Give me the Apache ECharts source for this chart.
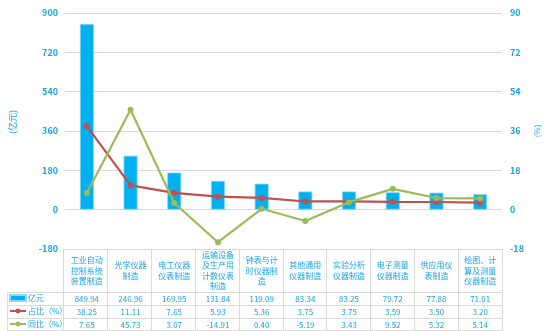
<!DOCTYPE html>
<html>
<head>
<meta charset="utf-8">
<script src="https://cdn.jsdelivr.net/npm/echarts@6/dist/echarts.min.js"></script>
<style>
  html, body { margin: 0; padding: 0; background: #ffffff; }
  #chart { width: 551px; height: 331px; }
</style>
</head>
<body>
<div id="chart"></div>
<script>
// Industry categories (wrapped as they appear in the table header)
const categories = [
  '工业自动\n控制系统\n装置制造',
  '光学仪器\n制造',
  '电工仪器\n仪表制造',
  '运输设备\n及生产用\n计数仪表\n制造',
  '钟表与计\n时仪器制\n造',
  '其他通用\n仪器制造',
  '实验分析\n仪器制造',
  '电子测量\n仪器制造',
  '供应用仪\n表制造',
  '绘图、计\n算及测量\n仪器制造'
];
// Output value, 100 million yuan
const outputValue = [849.94, 246.96, 169.95, 131.84, 119.09, 83.34, 83.25, 79.72, 77.88, 71.01];
// Share of total, %
const sharePct = [38.25, 11.11, 7.65, 5.93, 5.36, 3.75, 3.75, 3.59, 3.50, 3.20];
// Year-on-year change, %
const yoyPct = [7.65, 45.73, 3.07, -14.91, 0.40, -5.19, 3.43, 9.52, 5.32, 5.14];

const seriesNames = ['亿元', '占比（%）', '同比（%）'];
const leftTicks = { min: -180, max: 900, interval: 180 };
const rightTicks = { min: -18, max: 90, interval: 18 };

// Layout of the plot area and the data table beneath it
const W = 551, H = 331;
const plotLeft = 63, plotRight = 502, plotTop = 13, plotBottom = 249;
const tableLeft = 7;
const headerBottom = 292, rowH = 13;

const blue = '#00B0F0';
const textBlue = '#1AA3E3';
const gridGrey = '#D9D9D9';
const font = '"Noto Sans CJK SC", "Noto Sans", sans-serif';

const chart = echarts.init(document.getElementById('chart'), null, { renderer: 'canvas' });

// Table rows drawn as extra category axes, one per series
function rowAxis(values, centerY) {
  return {
    type: 'category',
    position: 'bottom',
    gridIndex: 0,
    data: categories,
    axisLine: { show: false },
    axisTick: { show: false },
    splitLine: { show: false },
    axisLabel: {
      interval: 0,
      margin: centerY - plotBottom,
      verticalAlign: 'middle',
      color: textBlue,
      fontSize: 8,
      fontFamily: font,
      formatter: (v, i) => values[i].toFixed(2)
    }
  };
}

// Table grid lines
const graphics = [];
const colW = (plotRight - plotLeft) / categories.length;
const hLines = [headerBottom, headerBottom + rowH, headerBottom + 2 * rowH, headerBottom + 3 * rowH - 1];
hLines.forEach(y => graphics.push({
  type: 'line', silent: true,
  shape: { x1: tableLeft, y1: y + 0.5, x2: plotRight, y2: y + 0.5 },
  style: { stroke: gridGrey, lineWidth: 1 }
}));
graphics.push({
  type: 'line', silent: true,
  shape: { x1: tableLeft + 0.5, y1: headerBottom, x2: tableLeft + 0.5, y2: H },
  style: { stroke: gridGrey, lineWidth: 1 }
});
for (let i = 0; i <= categories.length; i++) {
  const x = Math.round(plotLeft + i * colW) + 0.5;
  graphics.push({
    type: 'line', silent: true,
    shape: { x1: x, y1: plotBottom, x2: x, y2: H },
    style: { stroke: gridGrey, lineWidth: 1 }
  });
}

const option = {
  backgroundColor: '#ffffff',
  animation: false,
  textStyle: { fontFamily: font },
  grid: {
    left: plotLeft, right: W - plotRight, top: plotTop, bottom: H - plotBottom,
    containLabel: false
  },
  legend: {
    orient: 'vertical',
    left: tableLeft + 2,
    top: headerBottom,
    padding: 0,
    itemGap: 1,
    itemWidth: 16,
    itemHeight: 6,
    textStyle: { color: textBlue, fontSize: 8, lineHeight: 12, fontFamily: font, padding: [0, 0, 0, -3] },
    data: [
      { name: seriesNames[0], icon: 'rect' },
      { name: seriesNames[1] },
      { name: seriesNames[2] }
    ]
  },
  xAxis: [
    {
      type: 'category',
      position: 'bottom',
      data: categories,
      axisLine: { show: false },
      axisTick: { show: false },
      axisLabel: {
        interval: 0,
        margin: (headerBottom - plotBottom) / 2,
        verticalAlign: 'middle',
        color: textBlue,
        fontSize: 8,
        lineHeight: 10.5,
        fontFamily: font
      }
    },
    rowAxis(outputValue, headerBottom + rowH / 2),
    rowAxis(sharePct, headerBottom + rowH * 1.5),
    rowAxis(yoyPct, headerBottom + rowH * 2.5)
  ],
  yAxis: [
    {
      type: 'value',
      min: leftTicks.min, max: leftTicks.max, interval: leftTicks.interval,
      name: '(亿元)',
      nameLocation: 'middle',
      nameRotate: 90,
      nameGap: 48,
      nameMoveOverlap: false,
      nameTextStyle: { color: textBlue, fontSize: 9, fontFamily: font, padding: [0, 0, 0, 18] },
      axisLine: { show: false },
      axisTick: { show: false },
      axisLabel: { color: textBlue, fontSize: 9, fontWeight: 'bold', margin: 7, fontFamily: font },
      splitLine: { lineStyle: { color: gridGrey, width: 1 } }
    },
    {
      type: 'value',
      min: rightTicks.min, max: rightTicks.max, interval: rightTicks.interval,
      name: '(%)',
      nameLocation: 'middle',
      nameRotate: 90,
      nameGap: 31,
      nameMoveOverlap: false,
      nameTextStyle: { color: textBlue, fontSize: 8, fontFamily: font },
      axisLine: { show: false },
      axisTick: { show: false },
      axisLabel: { color: textBlue, fontSize: 9, fontWeight: 'bold', margin: 8, fontFamily: font },
      splitLine: { show: false }
    }
  ],
  series: [
    {
      name: seriesNames[0],
      type: 'bar',
      xAxisIndex: 0,
      yAxisIndex: 0,
      data: outputValue,
      barWidth: 14,
      itemStyle: { color: blue, borderColor: '#8AD9F7', borderWidth: 0.8 },
      z: 2
    },
    {
      name: seriesNames[1],
      type: 'line',
      xAxisIndex: 0,
      yAxisIndex: 1,
      data: sharePct,
      symbol: 'circle',
      symbolSize: 6,
      lineStyle: { color: '#C0504D', width: 2.2 },
      itemStyle: { color: '#C0504D' },
      z: 3
    },
    {
      name: seriesNames[2],
      type: 'line',
      xAxisIndex: 0,
      yAxisIndex: 1,
      data: yoyPct,
      symbol: 'circle',
      symbolSize: 6,
      lineStyle: { color: '#9BBB59', width: 2.2 },
      itemStyle: { color: '#9BBB59' },
      z: 4
    }
  ],
  graphic: graphics
};

chart.setOption(option);
</script>
</body>
</html>
